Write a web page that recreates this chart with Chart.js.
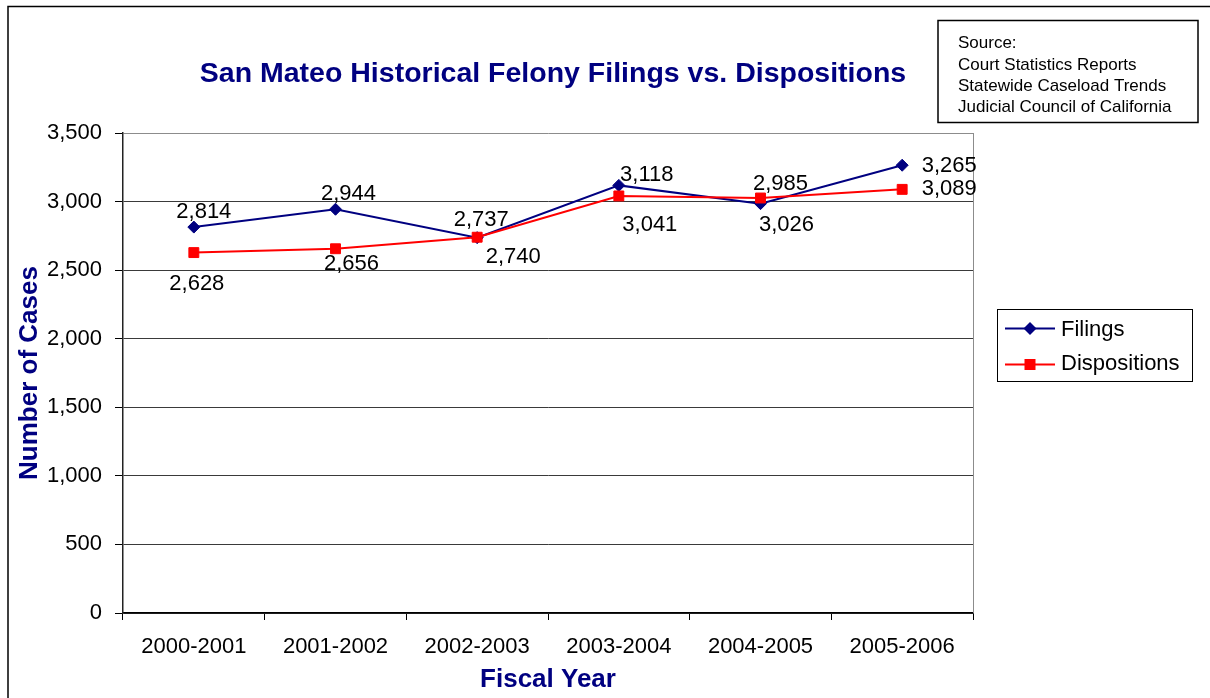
<!DOCTYPE html>
<html><head><meta charset="utf-8">
<script src="https://cdn.jsdelivr.net/npm/chart.js@4.4.0/dist/chart.umd.min.js"></script>
<style>html,body{margin:0;padding:0;background:#fff;overflow:hidden}#wrap{width:1210px;height:698px;position:relative}</style>
</head><body><div id="wrap"><canvas id="c" width="1210" height="698"></canvas></div>
<script>
// ---- data ----
const categories = ['2000-2001','2001-2002','2002-2003','2003-2004','2004-2005','2005-2006'];
const filings = [2814, 2944, 2737, 3118, 2985, 3265];
const dispositions = [2628, 2656, 2740, 3041, 3026, 3089];
const yTicks = [0, 500, 1000, 1500, 2000, 2500, 3000, 3500];
const seriesNames = ['Filings', 'Dispositions'];
const titleText = 'San Mateo Historical Felony Filings vs. Dispositions';
const xTitle = 'Fiscal Year';
const yTitle = 'Number of Cases';
const sourceLines = ['Source:', 'Court Statistics Reports', 'Statewide Caseload Trends', 'Judicial Council of California'];

const FONT = '"Liberation Sans", Arial, sans-serif';
const NAVY = '#000080';
const RED = '#FF0000';
const fmt = v => v.toLocaleString('en-US');

// label placement (label centre offsets from point, in px)
const labelPlacement = [
  [[10,-15],[13,-15],[4,-18],[28,-10],[20,-20],[47,1]],
  [[3,31],[16,15],[36,20],[31,29],[26,27],[47,0]]
];

const decorPlugin = {
  id: 'decor',
  beforeDraw(chart) {
    const ctx = chart.ctx;
    ctx.save();
    ctx.fillStyle = '#fff';
    ctx.fillRect(0, 0, chart.width, chart.height);
    // outer frame
    ctx.strokeStyle = '#000';
    ctx.lineWidth = 1.5;
    ctx.beginPath();
    ctx.moveTo(8, chart.height + 2);
    ctx.lineTo(8, 6.5);
    ctx.lineTo(chart.width + 2, 6.5);
    ctx.stroke();
    ctx.restore();
  },
  beforeDatasetsDraw(chart) {
    const ctx = chart.ctx, a = chart.chartArea;
    ctx.save();
    ctx.strokeStyle = '#8c8c8c';
    ctx.lineWidth = 1;
    ctx.beginPath();
    ctx.moveTo(Math.round(a.right) + 0.5, a.top);
    ctx.lineTo(Math.round(a.right) + 0.5, a.bottom);
    ctx.stroke();
    ctx.restore();
  },
  afterDraw(chart) {
    const ctx = chart.ctx;
    ctx.save();
    // title
    ctx.fillStyle = NAVY;
    ctx.font = 'bold 28.5px ' + FONT;
    ctx.textAlign = 'center';
    ctx.textBaseline = 'alphabetic';
    ctx.fillText(titleText, 553, 82);

    // data labels
    ctx.fillStyle = '#000';
    ctx.font = '22px ' + FONT;
    ctx.textBaseline = 'middle';
    ctx.textAlign = 'center';
    chart.data.datasets.forEach((ds, di) => {
      const meta = chart.getDatasetMeta(di);
      meta.data.forEach((pt, i) => {
        const off = labelPlacement[di][i];
        ctx.fillText(fmt(ds.data[i]), pt.x + off[0], pt.y + off[1]);
      });
    });

    // source box
    ctx.strokeStyle = '#000';
    ctx.lineWidth = 1.5;
    ctx.strokeRect(938, 20.5, 260, 102);
    ctx.font = '17px ' + FONT;
    ctx.textAlign = 'left';
    ctx.textBaseline = 'alphabetic';
    const base = [48, 69.5, 91, 112];
    sourceLines.forEach((t, i) => ctx.fillText(t, 958, base[i]));

    // legend
    ctx.lineWidth = 1;
    ctx.strokeRect(997.5, 309.5, 195, 72);
    const rows = [
      {name: seriesNames[0], color: NAVY, shape: 'diamond', y: 328.5, base: 336},
      {name: seriesNames[1], color: RED, shape: 'square', y: 364.5, base: 370}
    ];
    rows.forEach(r => {
      ctx.strokeStyle = r.color;
      ctx.lineWidth = 2;
      ctx.beginPath();
      ctx.moveTo(1005, r.y);
      ctx.lineTo(1055, r.y);
      ctx.stroke();
      ctx.fillStyle = r.color;
      ctx.beginPath();
      if (r.shape === 'diamond') {
        ctx.moveTo(1030, r.y - 6.5);
        ctx.lineTo(1036.5, r.y);
        ctx.lineTo(1030, r.y + 6.5);
        ctx.lineTo(1023.5, r.y);
        ctx.closePath();
      } else {
        ctx.rect(1024.5, r.y - 5.5, 11, 11);
      }
      ctx.fill();
      ctx.fillStyle = '#000';
      ctx.font = '22px ' + FONT;
      ctx.fillText(r.name, 1061, r.base);
    });
    ctx.restore();
  }
};

new Chart(document.getElementById('c'), {
  type: 'line',
  data: {
    labels: categories,
    datasets: [
      {
        label: seriesNames[0], data: filings, order: 2,
        borderColor: NAVY, backgroundColor: NAVY, borderWidth: 2,
        pointStyle: 'rectRot', pointRadius: 6, pointBorderWidth: 1,
        pointBackgroundColor: NAVY, pointBorderColor: NAVY, tension: 0
      },
      {
        label: seriesNames[1], data: dispositions, order: 1,
        borderColor: RED, backgroundColor: RED, borderWidth: 2,
        pointStyle: 'rect', pointRadius: 7, pointBorderWidth: 1,
        pointBackgroundColor: RED, pointBorderColor: RED, tension: 0
      }
    ]
  },
  options: {
    responsive: false,
    animation: false,
    devicePixelRatio: 1,
    layout: {padding: {top: 133, right: 237, bottom: 0, left: 0}},
    plugins: {legend: {display: false}, title: {display: false}, tooltip: {enabled: false}},
    scales: {
      x: {
        type: 'category',
        offset: true,
        grid: {offset: true, drawOnChartArea: false, drawTicks: true, tickLength: 7, tickColor: '#000', tickWidth: 1},
        border: {color: '#000', width: 1.5},
        ticks: {color: '#000', font: {family: FONT, size: 22}, padding: 14, maxRotation: 0, autoSkip: false},
        title: {display: true, text: xTitle, color: NAVY, font: {family: FONT, size: 26, weight: 'bold'}, padding: {top: 0, bottom: 2.4}},
        afterFit(s) { s.height = 85; }
      },
      y: {
        min: 0, max: 3500,
        afterBuildTicks(s) { s.ticks = yTicks.map(v => ({value: v})); },
        grid: {
          color: c => (c.tick && c.tick.value === 3500) ? '#8c8c8c' : '#3a3a3a',
          lineWidth: 1, tickLength: 8, tickColor: '#000'
        },
        border: {color: '#222', width: 1.5},
        ticks: {color: '#000', font: {family: FONT, size: 22}, padding: 13, callback: v => fmt(v)},
        title: {display: true, text: yTitle, color: NAVY, font: {family: FONT, size: 26, weight: 'bold'}, padding: {top: 14.4, bottom: 0}},
        afterFit(s) { s.width = 123; }
      }
    }
  },
  plugins: [decorPlugin]
});
</script>
</body></html>
